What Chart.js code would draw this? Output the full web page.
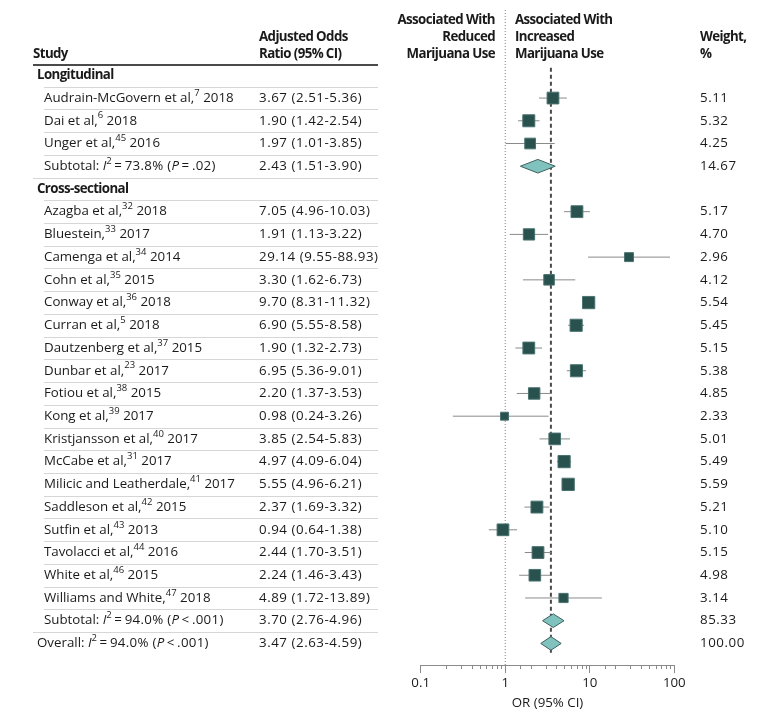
<!DOCTYPE html>
<html><head><meta charset="utf-8">
<script src="https://cdn.jsdelivr.net/npm/chart.js@4.4.1/dist/chart.umd.min.js"></script>
<style>html,body{margin:0;padding:0;background:#fff;} canvas{display:block}</style>
</head><body>
<canvas id="c" width="780" height="721"></canvas>
<script>
// ---------- DATA ----------
const rowTypes = ["group","study","study","study","subtotal",
  "group","study","study","study","study","study","study","study","study","study","study",
  "study","study","study","study","study","study","study","study","subtotal","overall"];
const rowLabels = ["Longitudinal","Audrain-McGovern et al,","Dai et al,","Unger et al,","Subtotal:",
  "Cross-sectional","Azagba et al,","Bluestein,","Camenga et al,","Cohn et al,","Conway et al,",
  "Curran et al,","Dautzenberg et al,","Dunbar et al,","Fotiou et al,","Kong et al,",
  "Kristjansson et al,","McCabe et al,","Milicic and Leatherdale,","Saddleson et al,","Sutfin et al,",
  "Tavolacci et al,","White et al,","Williams and White,","Subtotal:","Overall:"];
const refNums = ["","7","6","45","","","32","33","34","35","36","5","37","23","38","39",
  "40","31","41","42","43","44","46","47","",""];
const years = ["","2018","2018","2016","","","2018","2017","2014","2015","2018","2018","2015","2017","2015","2017",
  "2017","2017","2017","2015","2013","2016","2015","2018","",""];
const oddsRatio = [null,3.67,1.90,1.97,2.43,null,7.05,1.91,29.14,3.30,9.70,6.90,1.90,6.95,2.20,0.98,
  3.85,4.97,5.55,2.37,0.94,2.44,2.24,4.89,3.70,3.47];
const ciLow = [null,2.51,1.42,1.01,1.51,null,4.96,1.13,9.55,1.62,8.31,5.55,1.32,5.36,1.37,0.24,
  2.54,4.09,4.96,1.69,0.64,1.70,1.46,1.72,2.76,2.63];
const ciHigh = [null,5.36,2.54,3.85,3.90,null,10.03,3.22,88.93,6.73,11.32,8.58,2.73,9.01,3.53,3.26,
  5.83,6.04,6.21,3.32,1.38,3.51,3.43,13.89,4.96,4.59];
const weights = [null,5.11,5.32,4.25,14.67,null,5.17,4.70,2.96,4.12,5.54,5.45,5.15,5.38,4.85,2.33,
  5.01,5.49,5.59,5.21,5.10,5.15,4.98,3.14,85.33,100.00];
const i2Values = {4:"73.8%", 24:"94.0%", 25:"94.0%"};
const pValues = {4:["=",".02"], 24:["<",".001"], 25:["<",".001"]};
const xTicks = [0.1, 1, 10, 100];

// ---------- LAYOUT CONSTANTS ----------
const Y_MIN = -2.875, Y_MAX = 25.953;
const FONT = '"Open Sans"';
const FS = 13.3;
const TXT = '#1a1a1a';
const overallIdx = 25;

// ---------- DATASETS ----------
const datasets = [];
datasets.push({data:[{x:1,y:Y_MIN},{x:1,y:Y_MAX}], showLine:true, borderColor:'#808080',
  borderWidth:1, borderDash:[1,2], pointRadius:0, order:20});
datasets.push({data:[{x:oddsRatio[overallIdx],y:-0.33},{x:oddsRatio[overallIdx],y:25.44}], showLine:true,
  borderColor:'#4a4a4a', borderWidth:2, borderDash:[4,3], pointRadius:0, order:19});
const studyPts = [];
rowTypes.forEach((t,k)=>{
  if (t==='study'){
    datasets.push({data:[{x:ciLow[k],y:k},{x:ciHigh[k],y:k}], showLine:true, borderColor:'#8a8a8a',
      borderWidth:1, pointRadius:0, order:10});
    studyPts.push({x:oddsRatio[k], y:k, w:weights[k]});
  } else if (t==='subtotal' || t==='overall'){
    const h = 0.3;
    datasets.push({data:[{x:ciLow[k],y:k},{x:oddsRatio[k],y:k-h},{x:ciHigh[k],y:k},{x:oddsRatio[k],y:k+h},{x:ciLow[k],y:k}],
      showLine:true, fill:'shape', backgroundColor:'#80c2be', borderColor:'#3e605e', borderWidth:1,
      pointRadius:0, tension:0, order:2});
  }
});
datasets.push({data:studyPts, pointStyle:'rect', backgroundColor:'#29524f', borderColor:'#4a7370', borderWidth:1,
  pointRadius: c => (5.2*Math.sqrt(c.raw.w))/Math.SQRT2, order:1});

// ---------- TEXT HELPERS ----------
function fontOf(s){
  if (s==='b') return `bold ${FS}px ${FONT}`;
  if (s==='i') return `italic ${FS}px ${FONT}`;
  if (s==='s') return `9.5px ${FONT}`;
  return `${FS}px ${FONT}`;
}
function lsOf(p){
  if (p.ls) return p.ls;
  if (p.s==='b') return '-0.6px';
  return '0px';
}
function drawRich(ctx, x, y, parts, align){
  let total = 0;
  parts.forEach(p=>{ctx.font=fontOf(p.s); ctx.letterSpacing=lsOf(p); p.w=ctx.measureText(p.t).width; total+=p.w;});
  let cx = align==='right' ? x-total : x;
  parts.forEach(p=>{ctx.font=fontOf(p.s); ctx.letterSpacing=lsOf(p); ctx.fillText(p.t, cx, p.s==='s'? y-5 : y); cx+=p.w;});
  ctx.letterSpacing='0px';
}
const NUM_LS = '0.55px';

const tablePlugin = {
  id:'table',
  afterDraw(chart){
    const ctx = chart.ctx, ys = chart.scales.y, xs = chart.scales.x;
    ctx.save();
    ctx.textBaseline='middle'; ctx.textAlign='left'; ctx.fillStyle=TXT;
    // headers
    drawRich(ctx,33,54,[{t:'Study',s:'b'}]);
    drawRich(ctx,259,37,[{t:'Adjusted Odds',s:'b'}]);
    drawRich(ctx,259,54,[{t:'Ratio (95% CI)',s:'b'}]);
    drawRich(ctx,495,20,[{t:'Associated With',s:'b'}],'right');
    drawRich(ctx,495,37,[{t:'Reduced',s:'b'}],'right');
    drawRich(ctx,495,54,[{t:'Marijuana Use',s:'b'}],'right');
    drawRich(ctx,515,20,[{t:'Associated With',s:'b'}]);
    drawRich(ctx,515,37,[{t:'Increased',s:'b'}]);
    drawRich(ctx,515,54,[{t:'Marijuana Use',s:'b'}]);
    drawRich(ctx,700,37,[{t:'Weight,',s:'b'}]);
    drawRich(ctx,700,54,[{t:'%',s:'b'}]);
    // header rule
    ctx.strokeStyle='#4a4a4a'; ctx.lineWidth=2;
    ctx.beginPath(); ctx.moveTo(33,65); ctx.lineTo(378,65); ctx.stroke();
    // separators
    ctx.strokeStyle='#d6d6d6'; ctx.lineWidth=1;
    rowTypes.forEach((t,k)=>{
      if (k===rowTypes.length-1) return;
      const yy = Math.round(ys.getPixelForValue(k+0.5))+0.5;
      const x0 = (t==='subtotal') ? 33 : 44;
      ctx.beginPath(); ctx.moveTo(x0,yy); ctx.lineTo(378,yy); ctx.stroke();
    });
    // rows
    ctx.fillStyle=TXT;
    rowTypes.forEach((t,k)=>{
      const y = ys.getPixelForValue(k);
      if (t==='group'){ drawRich(ctx,37,y,[{t:rowLabels[k],s:'b'}]); return; }
      if (t==='study'){
        drawRich(ctx,44,y,[{t:rowLabels[k],s:'n'},{t:refNums[k],s:'s'},{t:' '+years[k],s:'n'}]);
      } else {
        const x0 = t==='overall'?37:44;
        const p = pValues[k];
        drawRich(ctx,x0,y,[{t:rowLabels[k]+' ',s:'n'},{t:'I',s:'i'},{t:'2',s:'s'},
          {t:'\u2009=\u2009'+i2Values[k]+' (',s:'n',ls:'0.3px'},{t:'P',s:'i'},{t:'\u2009'+p[0]+'\u2009'+p[1]+')',s:'n',ls:'0.3px'}]);
      }
      drawRich(ctx,259,y,[{t:oddsRatio[k].toFixed(2)+' ('+ciLow[k].toFixed(2)+'-'+ciHigh[k].toFixed(2)+')',s:'n',ls:NUM_LS}]);
      drawRich(ctx,700,y,[{t:weights[k].toFixed(2),s:'n',ls:NUM_LS}]);
    });
    // minor ticks
    ctx.strokeStyle='#8a8a8a'; ctx.lineWidth=1;
    xs.ticks.forEach(tk=>{
      if (xTicks.some(v=>Math.abs(v-tk.value)<1e-9)) return;
      const px = Math.round(xs.getPixelForValue(tk.value))+0.5;
      ctx.beginPath(); ctx.moveTo(px,xs.top); ctx.lineTo(px,xs.top+4); ctx.stroke();
    });
    ctx.restore();
  }
};

const isMajor = v => xTicks.some(t=>Math.abs(t-v)<1e-9);

new Chart(document.getElementById('c'), {
  type:'scatter',
  data:{datasets},
  options:{
    responsive:false, animation:false, events:[],
    layout:{padding:{left:420.7, right:105.7, top:10, bottom:10}},
    plugins:{legend:{display:false}, tooltip:{enabled:false}},
    scales:{
      x:{type:'logarithmic', min:0.1, max:100,
        border:{display:true,color:'#8a8a8a',width:1},
        grid:{drawOnChartArea:false, drawTicks:true, tickLength:8,
          tickColor: c => (c.tick && isMajor(c.tick.value)) ? '#8a8a8a' : 'rgba(0,0,0,0)'},
        ticks:{autoSkip:false, maxRotation:0, padding:2, color:TXT, font:{family:FONT,size:FS},
          callback:(v)=> isMajor(v) ? (v<1? v.toFixed(1) : v.toFixed(0)) : ''},
        title:{display:true, text:'OR (95% CI)', color:TXT, font:{family:FONT,size:FS}, padding:{top:2,bottom:0}}
      },
      y:{type:'linear', display:false, min:Y_MIN, max:Y_MAX, reverse:true}
    }
  },
  plugins:[tablePlugin]
});
</script>
</body></html>
